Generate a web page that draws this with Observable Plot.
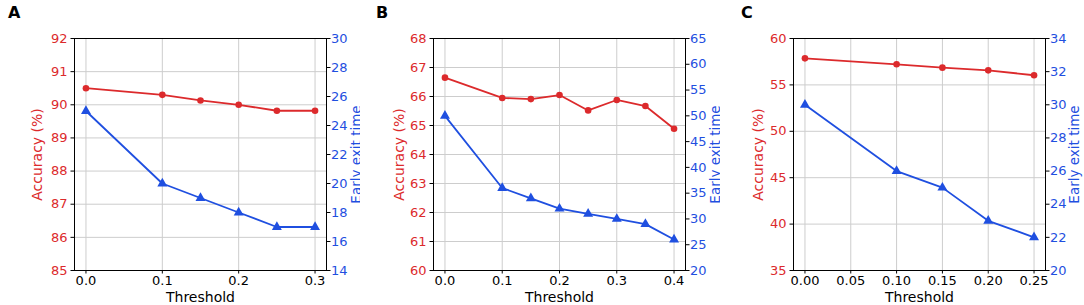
<!DOCTYPE html>
<html>
<head>
<meta charset="utf-8">
<script src="https://cdn.jsdelivr.net/npm/d3@7"></script>
<script src="https://cdn.jsdelivr.net/npm/@observablehq/plot@0.6"></script>
<style>
  html, body { margin: 0; padding: 0; background: #fff; }
  #root { position: relative; width: 1084px; height: 305px; font-family: "DejaVu Sans", sans-serif; }
  .panel { position: absolute; top: 0; }
  .letter { position: absolute; top: 3px; font: bold 16px "DejaVu Sans", sans-serif; color: #000; }
</style>
</head>
<body>
<div id="root"></div>
<script>
// ---- Data ----
const panelLetters = ["A", "B", "C"];

const thresholdsA = [0, 0.1, 0.15, 0.2, 0.25, 0.3];
const accuracyA = [90.5, 90.3, 90.13, 90.0, 89.82, 89.82];
const exitTimeA = [25, 20, 19, 18, 17, 17];

const thresholdsB = [0, 0.1, 0.15, 0.2, 0.25, 0.3, 0.35, 0.4];
const accuracyB = [66.65, 65.95, 65.91, 66.05, 65.52, 65.88, 65.67, 64.89];
const exitTimeB = [50, 36, 34, 32, 31, 30, 29, 26];

const thresholdsC = [0, 0.1, 0.15, 0.2, 0.25];
const accuracyC = [57.86, 57.22, 56.86, 56.57, 56.04];
const exitTimeC = [30, 26, 25, 23, 22];

const xTicksA = [0, 0.1, 0.2, 0.3];
const xTicksB = [0, 0.1, 0.2, 0.3, 0.4];
const xTicksC = [0, 0.05, 0.1, 0.15, 0.2, 0.25];

const accTicksA = [85, 86, 87, 88, 89, 90, 91, 92];
const accTicksB = [60, 61, 62, 63, 64, 65, 66, 67, 68];
const accTicksC = [35, 40, 45, 50, 55, 60];

const exitTicksA = [14, 16, 18, 20, 22, 24, 26, 28, 30];
const exitTicksB = [20, 25, 30, 35, 40, 45, 50, 55, 60, 65];
const exitTicksC = [20, 22, 24, 26, 28, 30, 32, 34];

const xLabel = "Threshold";
const leftLabel = "Accuracy (%)";
const rightLabel = "Early exit time";

// ---- Style ----
const RED = "#dc2a2c";
const BLUE = "#1f4fe0";
const GRID = "#cdcdcd";

function panel(cfg) {
  const [l0, l1] = [cfg.accTicks[0], cfg.accTicks[cfg.accTicks.length - 1]];
  const [r0, r1] = [cfg.exitTicks[0], cfg.exitTicks[cfg.exitTicks.length - 1]];
  const toLeft = v => l0 + (v - r0) * (l1 - l0) / (r1 - r0);
  const xs = cfg.thresholds;
  const xmin = cfg.xTicks[0], xmax = xs[xs.length - 1];
  const pad = (xmax - xmin) * 0.05;
  const data = xs.map((t, i) => ({t, acc: cfg.accuracy[i], exit: cfg.exitTime[i]}));
  const fmt = d3.format(cfg.fmt);
  return Plot.plot({
    width: cfg.width,
    height: 305,
    marginTop: 38,
    marginBottom: 35,
    marginLeft: cfg.ml,
    marginRight: cfg.mr,
    style: {fontFamily: "DejaVu Sans, sans-serif", background: "white", overflow: "visible"},
    x: {domain: [xmin - pad, xmax + pad]},
    y: {domain: [l0, l1]},
    marks: [
      Plot.gridX(cfg.xTicks, {stroke: GRID, strokeOpacity: 1, strokeWidth: 1}),
      Plot.gridY(cfg.accTicks.slice(1, -1), {stroke: GRID, strokeOpacity: 1, strokeWidth: 1}),
      Plot.axisX(cfg.xTicks, {tickSize: 3.5, tickPadding: 2, fontSize: 13, tickFormat: fmt, label: null, stroke: "black", fill: "black"}),
      Plot.axisY(cfg.accTicks, {anchor: "left", tickSize: 3.5, tickPadding: 3.5, fontSize: 13, label: null, stroke: "black", fill: RED}),
      Plot.axisY(cfg.exitTicks.map(toLeft), {anchor: "right", tickSize: 3.5, tickPadding: 1, fontSize: 13, label: null, stroke: "black", fill: BLUE,
        tickFormat: v => String(Math.round(r0 + (v - l0) * (r1 - r0) / (l1 - l0)))}),
      Plot.frame({stroke: "black", strokeWidth: 1}),
      Plot.line(data, {x: "t", y: "acc", stroke: RED, strokeWidth: 1.8}),
      Plot.dot(data, {x: "t", y: "acc", fill: RED, r: 3.3}),
      Plot.line(data, {x: "t", y: d => toLeft(d.exit), stroke: BLUE, strokeWidth: 1.8}),
      Plot.dot(data, {x: "t", y: d => toLeft(d.exit), fill: BLUE, symbol: "triangle", r: 3.7}),
      Plot.text([leftLabel], {frameAnchor: "left", rotate: -90, dx: cfg.lx, fill: RED, fontSize: 14, lineAnchor: "middle", textAnchor: "middle"}),
      Plot.text([rightLabel], {frameAnchor: "right", rotate: -90, dx: cfg.rx, fill: BLUE, fontSize: 13.5, lineAnchor: "middle", textAnchor: "middle"}),
      Plot.text([xLabel], {frameAnchor: "bottom", dy: 22, lineAnchor: "top", fill: "black", fontSize: 14})
    ]
  });
}

const root = document.getElementById("root");
const panels = [
  {left: 0, width: 360, ml: 74, mr: 34, lx: -36.5, rx: 30, letterX: 8,
   thresholds: thresholdsA, accuracy: accuracyA, exitTime: exitTimeA, xTicks: xTicksA, accTicks: accTicksA, exitTicks: exitTicksA, fmt: ".1f"},
  {left: 360, width: 360, ml: 73, mr: 35, lx: -34, rx: 30, letterX: 376,
   thresholds: thresholdsB, accuracy: accuracyB, exitTime: exitTimeB, xTicks: xTicksB, accTicks: accTicksB, exitTicks: exitTicksB, fmt: ".1f"},
  {left: 720, width: 364, ml: 73, mr: 39, lx: -35, rx: 29, letterX: 741,
   thresholds: thresholdsC, accuracy: accuracyC, exitTime: exitTimeC, xTicks: xTicksC, accTicks: accTicksC, exitTicks: exitTicksC, fmt: ".2f"}
];
panels.forEach((cfg, i) => {
  const svg = panel(cfg);
  svg.classList.add("panel");
  svg.style.left = cfg.left + "px";
  root.appendChild(svg);
  const letter = document.createElement("div");
  letter.className = "letter";
  letter.style.left = cfg.letterX + "px";
  letter.textContent = panelLetters[i];
  root.appendChild(letter);
});
</script>
</body>
</html>
